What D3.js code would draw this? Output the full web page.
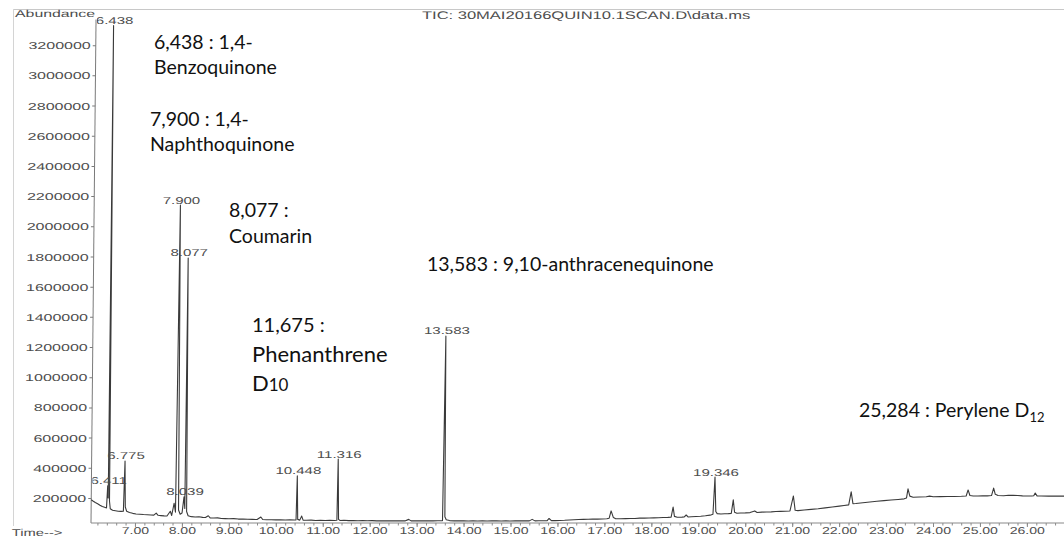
<!DOCTYPE html>
<html>
<head>
<meta charset="utf-8">
<script src="https://cdn.jsdelivr.net/npm/d3@7"></script>
<style>
  html, body { margin: 0; padding: 0; background: #fff; }
  svg { display: block; }
</style>
</head>
<body>
<svg id="chart" width="1064" height="538"></svg>
<script>
// ---- Data -----------------------------------------------------------------
// Axis tick values
const yTicks = [200000, 400000, 600000, 800000, 1000000, 1200000, 1400000, 1600000,
                1800000, 2000000, 2200000, 2400000, 2600000, 2800000, 3000000, 3200000];
const xTicks = [7, 8, 9, 10, 11, 12, 13, 14, 15, 16, 17, 18, 19, 20, 21, 22, 23, 24, 25, 26];

// Integrated peaks carrying a retention-time label (min, abundance at apex)
const labelledTimes   = [6.411, 6.438, 6.775, 7.900, 8.039, 8.077, 10.448, 11.316, 13.583, 19.346];
const labelledHeights = [280000, 3330000, 445000, 2140000, 207000, 1790000, 346000, 458000, 1273000, 338000];

// Smaller unlabelled peaks (min, abundance at apex)
const minorTimes   = [7.45, 7.75, 7.83, 8.56, 9.68, 10.55, 12.83, 15.46, 15.82, 17.14,
                      18.46, 18.74, 19.74, 20.20, 21.02, 22.25, 23.46, 24.74, 25.284, 26.17];
const minorHeights = [100000, 112000, 165000, 82000, 74000, 80000, 58000, 58000, 64000, 114000,
                      140000, 87000, 187000, 114000, 213000, 240000, 260000, 253000, 265000, 233000];

// Baseline of the total ion current, including the feet of each peak
const baselinePoints = [
  [6.063, 188000], [6.10, 180000], [6.15, 170000], [6.20, 162000], [6.25, 152000], [6.30, 143000],
  [6.35, 138000], [6.39, 134000], [6.425, 200000], [6.452, 180000], [6.47, 128000], [6.52, 118000],
  [6.58, 115000], [6.64, 112000], [6.70, 111000], [6.75, 112000], [6.79, 140000], [6.82, 112000],
  [6.88, 104000], [6.95, 98000], [7.02, 94000], [7.10, 92000], [7.18, 90000], [7.26, 89000],
  [7.34, 87000], [7.40, 86000], [7.49, 85000], [7.55, 83000], [7.62, 81000], [7.68, 80000],
  [7.78, 84000], [7.86, 105000], [7.925, 120000], [7.96, 92000], [8.00, 100000], [8.058, 130000],
  [8.097, 110000], [8.13, 82000], [8.20, 76000], [8.28, 74000], [8.36, 75000], [8.44, 71000],
  [8.50, 70000], [8.60, 68000], [8.68, 67000], [8.76, 68000], [8.84, 64000], [8.92, 63000],
  [9.00, 62000], [9.10, 63000], [9.20, 60000], [9.30, 61000], [9.40, 59000], [9.50, 58000],
  [9.60, 57000], [9.72, 57000], [9.80, 56000], [9.90, 56000], [10.00, 55000], [10.10, 56000],
  [10.20, 54000], [10.30, 55000], [10.40, 54000], [10.43, 55000], [10.465, 58000], [10.51, 53000],
  [10.58, 53000], [10.65, 52000], [10.75, 53000], [10.85, 51000], [10.95, 52000], [11.05, 51000],
  [11.15, 52000], [11.25, 51000], [11.30, 52000], [11.335, 58000], [11.37, 51000], [11.45, 52000],
  [11.55, 50000], [11.65, 51000], [11.75, 49000], [11.85, 50000], [11.95, 49000], [12.05, 50000],
  [12.15, 48000], [12.25, 49000], [12.35, 48000], [12.45, 49000], [12.55, 48000], [12.65, 49000],
  [12.75, 48000], [12.88, 48000], [12.95, 49000], [13.05, 48000], [13.15, 49000], [13.25, 48000],
  [13.35, 48000], [13.45, 49000], [13.55, 50000], [13.60, 75000], [13.63, 55000], [13.70, 50000],
  [13.80, 48000], [13.90, 49000], [14.00, 48000], [14.10, 47000], [14.20, 48000], [14.30, 47000],
  [14.40, 48000], [14.50, 47000], [14.60, 48000], [14.70, 49000], [14.80, 47000], [14.90, 48000],
  [15.00, 47000], [15.10, 48000], [15.20, 48000], [15.30, 49000], [15.40, 48000], [15.52, 48000],
  [15.60, 49000], [15.70, 49000], [15.78, 50000], [15.87, 50000], [15.95, 50000], [16.05, 51000],
  [16.15, 52000], [16.25, 54000], [16.35, 56000], [16.45, 57000], [16.55, 58000], [16.65, 59000],
  [16.75, 60000], [16.85, 60000], [16.95, 61000], [17.05, 62000], [17.10, 66000], [17.19, 70000],
  [17.24, 62000], [17.35, 62000], [17.45, 63000], [17.55, 64000], [17.65, 64000], [17.75, 66000],
  [17.85, 66000], [17.95, 67000], [18.05, 68000], [18.15, 69000], [18.25, 70000], [18.35, 71000],
  [18.42, 73000], [18.49, 78000], [18.55, 72000], [18.65, 73000], [18.70, 74000], [18.78, 74000],
  [18.85, 75000], [18.95, 77000], [19.05, 79000], [19.15, 82000], [19.25, 86000], [19.31, 92000],
  [19.37, 110000], [19.40, 96000], [19.48, 94000], [19.56, 95000], [19.64, 96000], [19.70, 98000],
  [19.77, 105000], [19.82, 99000], [19.90, 100000], [20.00, 101000], [20.10, 103000], [20.25, 104000],
  [20.35, 106000], [20.45, 107000], [20.55, 108000], [20.65, 110000], [20.75, 111000], [20.85, 112000],
  [20.95, 114000], [21.06, 118000], [21.12, 116000], [21.25, 120000], [21.40, 124000], [21.55, 128000],
  [21.70, 134000], [21.85, 140000], [22.00, 146000], [22.10, 150000], [22.20, 154000], [22.29, 162000],
  [22.35, 163000], [22.50, 168000], [22.65, 173000], [22.80, 178000], [22.95, 182000], [23.10, 186000],
  [23.25, 190000], [23.38, 194000], [23.43, 200000], [23.50, 212000], [23.57, 205000], [23.70, 206000],
  [23.85, 208000], [23.92, 212000], [24.00, 208000], [24.15, 209000], [24.30, 210000], [24.45, 210000],
  [24.60, 211000], [24.70, 213000], [24.78, 216000], [24.85, 213000], [24.95, 213000], [25.05, 214000],
  [25.15, 214000], [25.24, 216000], [25.32, 224000], [25.38, 216000], [25.50, 215000], [25.60, 218000],
  [25.70, 217000], [25.80, 216000], [25.90, 214000], [26.00, 213000], [26.10, 213000], [26.14, 215000],
  [26.21, 214000], [26.30, 213000], [26.45, 212000], [26.60, 213000], [26.79, 212000]
];

// Compound identifications written over the chromatogram
const compoundTimes = ["6,438", "7,900", "8,077", "11,675", "13,583", "25,284"];
const compoundNames = ["1,4-Benzoquinone", "1,4-Naphthoquinone", "Coumarin",
                       "Phenanthrene D10", "9,10-anthracenequinone", "Perylene D12"];

const titleText = "TIC: 30MAI20166QUIN10.1SCAN.D\\data.ms";

// ---- Layout ---------------------------------------------------------------
const svg = d3.select("#chart");
const plotLeft = 91, plotRight = 1064, plotTop = 19.5, plotBottom = 523;

const x = d3.scaleLinear().domain([6.063, 26.79]).range([plotLeft, plotRight]);
const y = d3.scaleLinear().domain([34000, 3370000]).range([plotBottom, plotTop]);

const scanFont = "'Liberation Sans', Arial, sans-serif";
const noteFont = "Lato, 'Open Sans', sans-serif";
const inkGrey = "#4d4d4d";

// widen a text element horizontally, like the plotter font of the printout
function widen(sel, k) {
  sel.each(function () {
    const w = this.getComputedTextLength();
    d3.select(this).attr("textLength", w * k).attr("lengthAdjust", "spacingAndGlyphs");
  });
}

// faint page border of the printout
svg.append("line").attr("x1", 13).attr("x2", 1064).attr("y1", 9.5).attr("y2", 9.5)
  .attr("stroke", "#c8c8c8").attr("stroke-width", 1);
svg.append("line").attr("x1", 13.5).attr("x2", 13.5).attr("y1", 9).attr("y2", 526)
  .attr("stroke", "#d4d4d4").attr("stroke-width", 1);

// the printed report sits slightly askew on the page
const page = svg.append("g")
  .attr("transform", `translate(${plotBottom * 0.01},0) skewX(${-Math.atan(0.01) * 180 / Math.PI})`);

page.append("defs").append("clipPath").attr("id", "plot-clip")
  .append("rect").attr("x", plotLeft + 1).attr("y", 0)
  .attr("width", plotRight - plotLeft).attr("height", plotBottom);

// Y axis
const yAxis = d3.axisLeft(y).tickValues(yTicks).tickSize(3).tickPadding(2)
  .tickFormat(d3.format("d"));
const gy = page.append("g").attr("transform", `translate(${plotLeft},0)`).call(yAxis);
gy.select(".domain").attr("d", `M0,${plotTop}V${plotBottom}`).attr("stroke", "#7a7a7a");
gy.selectAll(".tick line").attr("stroke", "#7a7a7a");
gy.selectAll(".tick text").attr("font-family", scanFont).attr("font-size", 10)
  .attr("fill", inkGrey).attr("dy", "0.36em").call(widen, 1.6);

// X axis with minor ticks every 0.2 min
const minorTicks = d3.range(6.2, 26.79, 0.2);
const gxMinor = page.append("g").attr("transform", `translate(0,${plotBottom})`)
  .call(d3.axisBottom(x).tickValues(minorTicks).tickSize(2.5).tickFormat(""));
gxMinor.select(".domain").remove();
gxMinor.selectAll(".tick line").attr("stroke", "#8a8a8a");

const gx = page.append("g").attr("transform", `translate(0,${plotBottom})`)
  .call(d3.axisBottom(x).tickValues(xTicks).tickSize(4).tickPadding(2)
    .tickFormat(d3.format(".2f")));
gx.select(".domain").attr("d", `M${plotLeft},0H${plotRight}`).attr("stroke", "#8a8a8a");
gx.selectAll(".tick line").attr("stroke", "#8a8a8a");
gx.selectAll(".tick text").attr("font-family", scanFont).attr("font-size", 10)
  .attr("fill", inkGrey).attr("dy", "0.55em").call(widen, 1.4);

// Header texts of the report
page.append("text").attr("x", 10).attr("y", 17.3).text("Abundance")
  .attr("font-family", scanFont).attr("font-size", 10).attr("fill", inkGrey).call(widen, 1.58);
page.append("text").attr("x", 417).attr("y", 19).text(titleText)
  .attr("font-family", scanFont).attr("font-size", 11).attr("fill", inkGrey).call(widen, 1.5);
page.append("text").attr("x", 12).attr("y", 536).text("Time-->")
  .attr("font-family", scanFont).attr("font-size", 10).attr("fill", inkGrey).call(widen, 1.47);

// Chromatogram trace: baseline points merged with the peak apexes
const apexes = labelledTimes.map((t, i) => [t, labelledHeights[i]])
  .concat(minorTimes.map((t, i) => [t, minorHeights[i]]));
const trace = baselinePoints.concat(apexes).sort((a, b) => a[0] - b[0]);

const line = d3.line().x(d => x(d[0])).y(d => y(d[1]));
page.append("path").datum(trace).attr("d", line)
  .attr("fill", "none").attr("stroke", "#3a3a3a").attr("stroke-width", 1.1)
  .attr("stroke-linejoin", "round");

// Retention-time labels above the integrated peaks
page.append("g").attr("clip-path", "url(#plot-clip)")
  .selectAll("text").data(labelledTimes).join("text")
  .attr("x", (t) => x(t) + 1)
  .attr("y", (t, i) => y(labelledHeights[i]) - 1.5)
  .attr("text-anchor", "middle")
  .attr("font-family", scanFont).attr("font-size", 10).attr("fill", inkGrey)
  .text(t => t.toFixed(3))
  .call(widen, 1.5);

// ---- Compound annotations ---------------------------------------------------
const notes = svg.append("g").attr("font-family", noteFont).attr("fill", "#111");

function note(xp, yp, txt, size) {
  return notes.append("text").attr("x", xp).attr("y", yp).attr("font-size", size || 19.5).text(txt);
}

note(154, 49, `${compoundTimes[0]} : 1,4-`);
note(154, 74, compoundNames[0].replace("1,4-", ""));
note(150, 126, `${compoundTimes[1]} : 1,4-`);
note(150, 151, compoundNames[1].replace("1,4-", ""));
note(229, 217, `${compoundTimes[2]} :`);
note(229, 243, compoundNames[2]);
note(252, 332, `${compoundTimes[3]} :`, 20);
note(252, 362, compoundNames[3].split(" ")[0], 22);
const d10 = notes.append("text").attr("x", 252).attr("y", 391);
d10.append("tspan").attr("font-size", 22).text("D");
d10.append("tspan").attr("font-size", 17).text(compoundNames[3].split(" ")[1].slice(1));
note(427, 271, `${compoundTimes[4]} : ${compoundNames[4]}`);
const per = notes.append("text").attr("x", 859).attr("y", 417).attr("font-size", 19.5);
per.append("tspan").text(`${compoundTimes[5]} : ${compoundNames[5].slice(0, -2)}`);
per.append("tspan").attr("font-size", 13).attr("dy", 5).text(compoundNames[5].slice(-2));
</script>
</body>
</html>
